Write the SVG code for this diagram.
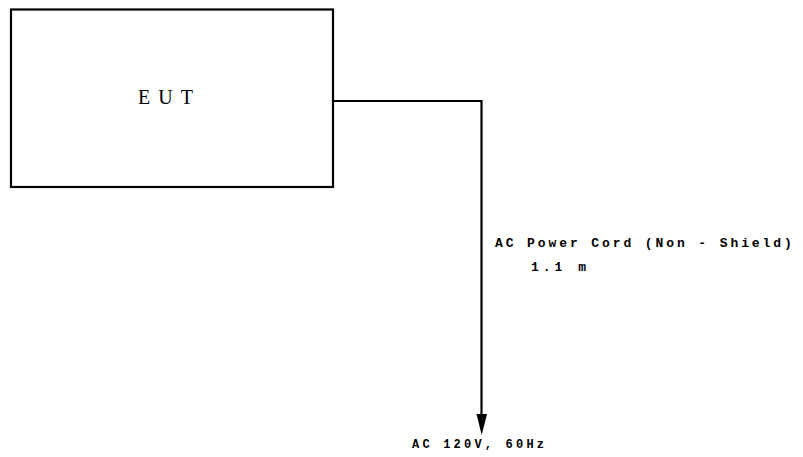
<svg xmlns="http://www.w3.org/2000/svg" width="803" height="457" viewBox="0 0 803 457">
<style>
.box{fill:#fff;stroke:#000;stroke-width:2.2}
.wire{fill:none;stroke:#000;stroke-width:2.2}
.lbl{font-family:"Liberation Mono",monospace;font-weight:bold;fill:#000}
.title{font-family:"Liberation Serif",serif;font-size:20px;fill:#000;letter-spacing:8px}
</style>
<defs>
<marker id="arr" markerWidth="11" markerHeight="20" refX="5.5" refY="20" orient="auto-start-reverse" markerUnits="userSpaceOnUse" viewBox="0 0 11 20">
<path d="M0,0 L11,0 L5.5,20 Z" fill="#000"/>
</marker>
</defs>
<rect width="803" height="457" fill="#fff"/>
<g id="eut">
<rect class="box" x="11" y="9.5" width="322" height="177.5"/>
<text class="title" x="138" y="104">EUT</text>
</g>
<g id="connectors">
<path class="wire" d="M333,101 H481.5 V415"/>
<path d="M476.5,414 L487,414 L481.7,435 Z" fill="#000"/>
</g>
<g id="labels">
<text class="lbl" x="495" y="247" font-size="13" letter-spacing="2.9">AC Power Cord (Non - Shield)</text>
<text class="lbl" x="531" y="271" font-size="13" letter-spacing="4">1.1 m</text>
<text class="lbl" x="412" y="448" font-size="12" letter-spacing="3.2">AC 120V, 60Hz</text>
</g>
</svg>
